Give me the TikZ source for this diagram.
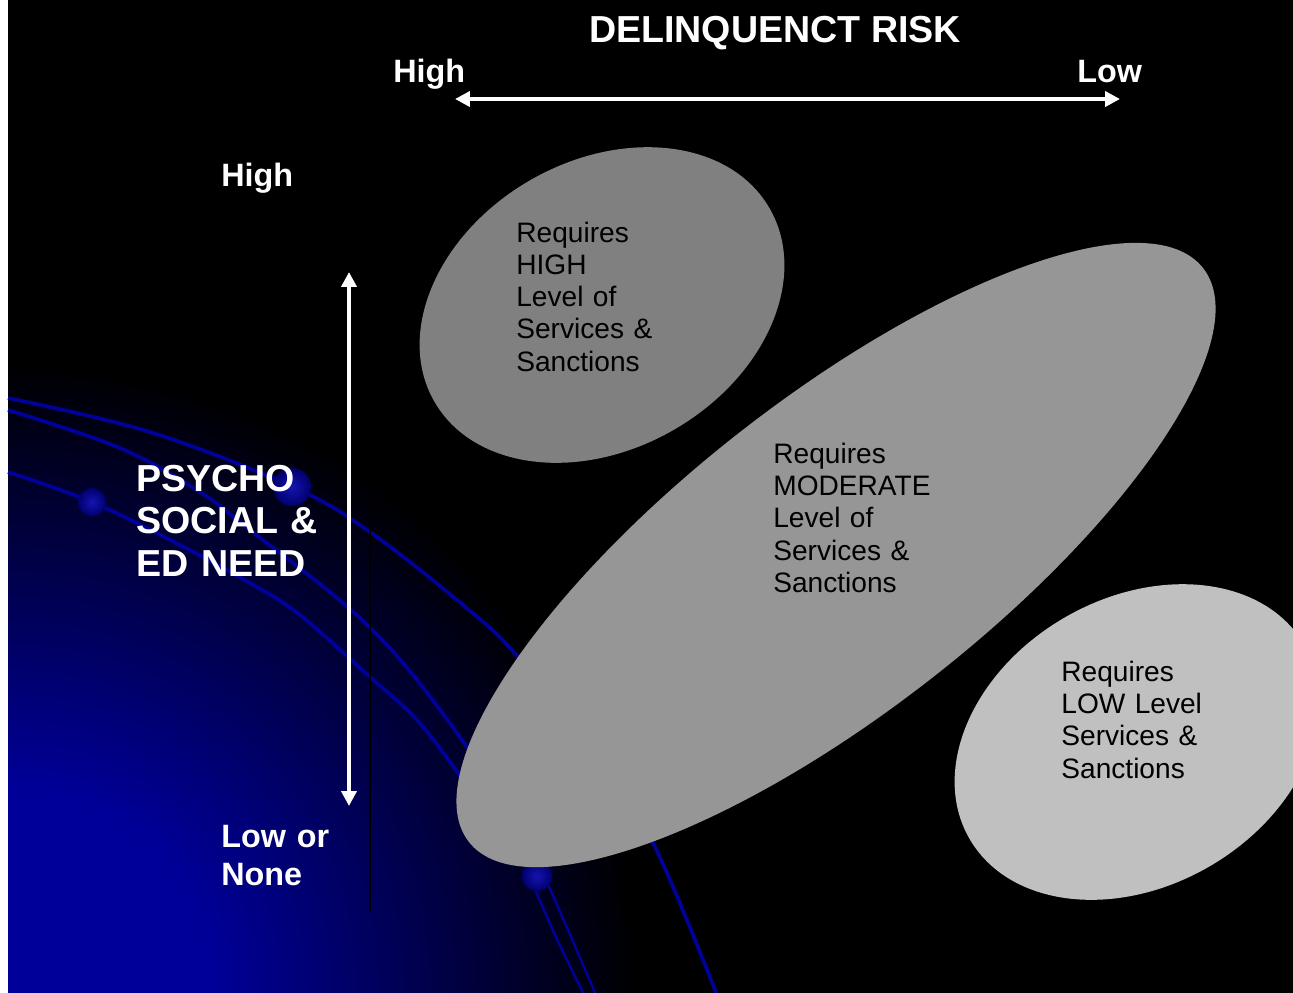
\documentclass[tikz,border=0pt]{standalone}
\usepackage{fontspec}
\setmainfont{Liberation Sans}
\usetikzlibrary{shapes.geometric,arrows.meta}

\definecolor{deepblue}{RGB}{0,0,153}
\definecolor{swirl}{RGB}{0,0,155}
\definecolor{beadhi}{RGB}{20,20,175}
\definecolor{beadlo}{RGB}{0,0,110}
\definecolor{highgray}{RGB}{128,128,128}
\definecolor{modgray}{RGB}{150,150,150}
\definecolor{lowgray}{RGB}{192,192,192}

% blue glow in the lower left corner, fading into the black backdrop
% (25bp is the edge of the shaded circle)
\pgfdeclareradialshading{bluefade}{\pgfpoint{0bp}{0bp}}{%
  color(0bp)=(deepblue); color(8bp)=(deepblue); color(25bp)=(black); color(50bp)=(black)}

\begin{document}
\begin{tikzpicture}[x=0.02cm, y=-0.02cm,
  heading/.style={font=\bfseries\fontsize{21.4pt}{24.4pt}\selectfont, text=white, inner sep=0pt},
  axislabel/.style={font=\bfseries\fontsize{18.4pt}{22.1pt}\selectfont, text=white, inner sep=0pt},
  multiline/.style={text width=8cm, align=left},
  zone/.style={ellipse, draw=none, inner sep=0pt, outer sep=0pt},
  zonetext/.style={font=\fontsize{16pt}{18.4pt}\selectfont, text=black, inner sep=0pt,
    text width=6cm, align=left, anchor=base west},
  axisarrow/.style={draw=white, line width=2.3pt,
    {Triangle[length=8.5pt,width=8.5pt]}-{Triangle[length=8.5pt,width=8.5pt]}},
  swirlline/.style={draw=swirl, line width=2.1pt},
  bead/.style={inner color=beadhi, outer color=beadlo},
]
\useasboundingbox (0,0) rectangle (1293,992);
\clip (0,0) rectangle (1293,992);

% backdrop
\fill[white] (-10,-10) rectangle (8,1002);
\fill[black] (8,-10) rectangle (1303,1002);
\begin{scope}
  \clip (8,-10) rectangle (1303,1002);
  \shade[shading=bluefade] (8,992) circle [radius=630];
\end{scope}

% sweeping blue lines of the backdrop
\draw[swirlline] plot[smooth, tension=0.6] coordinates
  {(8,398) (150,432) (293,487) (370,532) (469,610) (518,657) (600,760) (655,847) (717,995)};
\draw[swirlline] plot[smooth, tension=0.6] coordinates
  {(8,410) (120,448) (200,492) (250,530) (343,603) (403,663) (467,747) (500,800)};
\draw[swirlline] plot[smooth, tension=0.6] coordinates
  {(8,472) (92,502) (180,545) (250,583) (300,615) (370,677) (417,720) (458,773) (490,820)};
\draw[swirlline, line width=1.4pt] plot[smooth] coordinates {(531,880) (555,935) (584,995)};
\draw[swirlline, line width=1.4pt] plot[smooth] coordinates {(546,880) (568,930) (596,995)};

% beads on the lines
\shade[bead] (92,502) circle [radius=14];
\shade[bead] (292,487) circle [radius=19];
\shade[bead] (537,876) circle [radius=15];

% thin dark rule
\draw[black, line width=0.7pt] (370,500) -- (370,912);

% service zones
\node[zone, fill=highgray, minimum width=7.74cm, minimum height=5.76cm, rotate=30]
  (zonehigh) at (602,305) {};
\node[zone, fill=modgray, minimum width=18.64cm, minimum height=6.24cm, rotate=38]
  (zonemod) at (836,555) {};
\node[zone, fill=lowgray, minimum width=7.74cm, minimum height=5.76cm, rotate=30]
  (zonelow) at (1137,742) {};

\node[zonetext] (texthigh) at (516,242)
  {Requires\\HIGH\\Level of\\Services \&\\Sanctions};
\node[zonetext] (textmod) at (773,463)
  {Requires\\MODERATE\\Level of\\Services \&\\Sanctions};
\node[zonetext] (textlow) at (1061,681)
  {Requires\\LOW Level\\Services \&\\Sanctions};

% delinquent risk axis
\node[heading, anchor=base] (risk) at (775,42) {DELINQUENCT RISK};
\node[axislabel, anchor=base west] (riskhigh) at (393,82) {High};
\node[axislabel, anchor=base west] (risklow) at (1077,82) {Low};
\coordinate (riskleft) at (455,99);
\coordinate (riskright) at (1120,99);
\draw[axisarrow] (riskleft) -- (riskright);

% need axis
\node[axislabel, anchor=base west] (needhigh) at (221,186) {High};
\node[heading, multiline, anchor=base west] (needlabel) at (136,491)
  {PSYCHO\\SOCIAL \&\\ED NEED};
\node[axislabel, multiline, anchor=base west] (needlow) at (221,847) {Low or\\None};
\coordinate (needtop) at (349,272);
\coordinate (needbottom) at (349,806);
\draw[axisarrow] (needtop) -- (needbottom);
\end{tikzpicture}
\end{document}
